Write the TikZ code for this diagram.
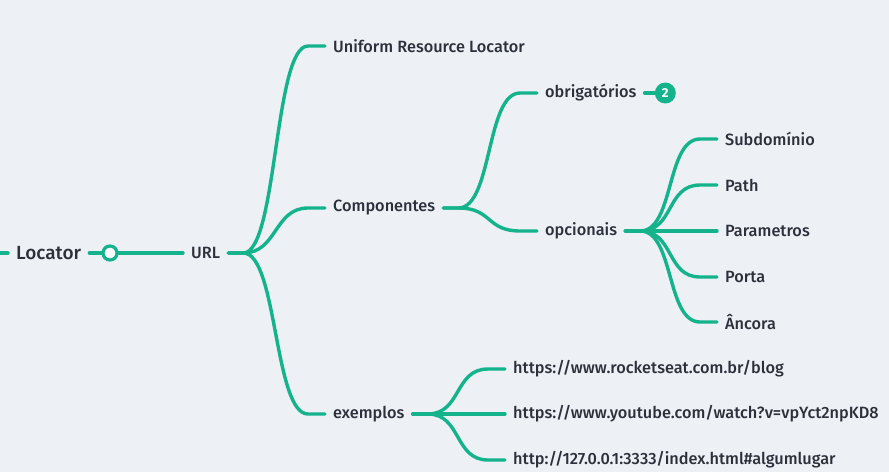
\documentclass[tikz,border=0pt]{standalone}
\usepackage{fontspec}
\setmainfont{Fira Sans}[UprightFont=* Medium, BoldFont=* Bold]
\usetikzlibrary{positioning}
\definecolor{mapTeal}{HTML}{14B38C}
\definecolor{mapInk}{HTML}{2B303B}
\definecolor{mapBack}{HTML}{EDF0F5}
\tikzset{
  topic/.style  = {anchor=west, inner sep=0pt, text=mapInk, font=\fontsize{16.3}{18}\selectfont},
  root/.style   = {topic, font=\fontsize{19}{21}\selectfont},
  branch/.style = {draw=mapTeal, line width=3.4pt, line cap=round},
  knob/.style   = {circle, draw=mapTeal, fill=white, line width=3.2pt, minimum size=14pt, inner sep=0pt},
  badge/.style  = {circle, fill=mapTeal, text=white, inner sep=0pt, minimum size=21pt,
                   font=\bfseries\fontsize{13}{13}\selectfont}
}
% parent -> child, short stub, S-curve, short stub
\newcommand{\twig}[2]{%
  \draw[branch] ([xshift=8pt]#1.east) -- ++(15pt,0)
    .. controls +(34pt,0) and +(-34pt,0) .. ([xshift=-25pt]#2.west) -- ([xshift=-8pt]#2.west);}

\begin{document}
\begin{tikzpicture}[x=1pt, y=-1pt]
  \fill[mapBack] (0,0) rectangle (889,472);
  \useasboundingbox (0,0) rectangle (889,472);

  % --- root and handle
  \coordinate (edge) at (0,253);
  \node[root] (locator) at (16,253) {Locator};
  \node[knob] (knob) at (110,253) {};
  \node[topic] (url) at (191,253) {URL};

  % --- first level
  \node[topic] (uniform) at (333,46) {Uniform Resource Locator};
  \node[topic] (comp) at (333,208) {Componentes};
  \node[topic] (exem) at (333,414) {exemplos};

  % --- componentes
  \node[topic] (obrig) at (545,93) {obrigatórios};
  \node[badge, right=18pt of obrig] (count) {2};
  \node[topic] (opc) at (545,231) {opcionais};

  \node[topic] (subdom) at (725,139) {Subdomínio};
  \node[topic] (path) at (725,185) {Path};
  \node[topic] (param) at (725,231) {Parametros};
  \node[topic] (porta) at (725,277) {Porta};
  \node[topic] (ancora) at (725,322) {Âncora};

  % --- exemplos
  \node[topic] (ex1) at (513,369) {https://www.rocketseat.com.br/blog};
  \node[topic] (ex2) at (513,414) {https://www.youtube.com/watch?v=vpYct2npKD8};
  \node[topic] (ex3) at (513,460) {http://127.0.0.1:3333/index.html\#algumlugar};

  \draw[branch] (edge) -- ([xshift=-8pt]locator.west);
  \draw[branch] ([xshift=8pt]locator.east) -- (knob);
  \draw[branch] (knob) -- ([xshift=-8pt]url.west);

  \twig{url}{uniform}
  \twig{url}{comp}
  \twig{url}{exem}
  \twig{comp}{obrig}
  \twig{comp}{opc}
  \draw[branch] ([xshift=8pt]obrig.east) -- (count);
  \twig{opc}{subdom}
  \twig{opc}{path}
  \twig{opc}{param}
  \twig{opc}{porta}
  \twig{opc}{ancora}
  \twig{exem}{ex1}
  \twig{exem}{ex2}
  \twig{exem}{ex3}
\end{tikzpicture}
\end{document}
